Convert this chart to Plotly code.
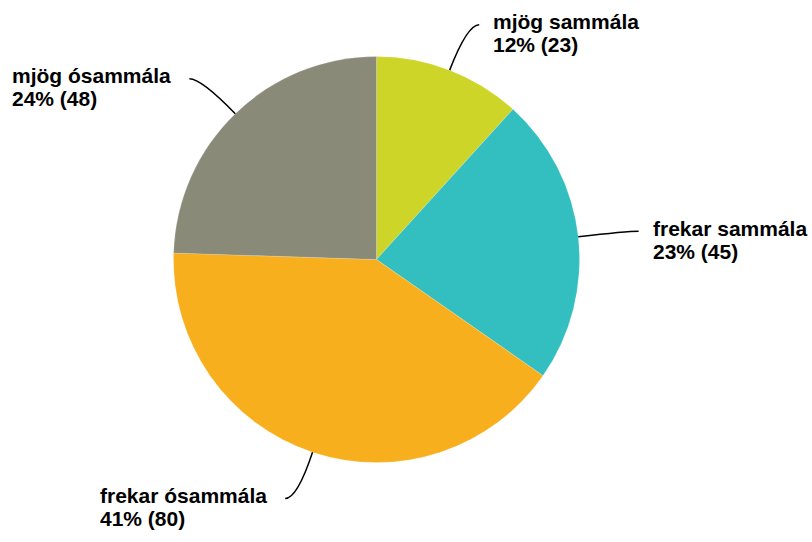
import math
import plotly.graph_objects as go

labels = ["mjög sammála", "frekar sammála", "frekar ósammála", "mjög ósammála"]
values = [23, 45, 80, 48]
colors = ["#CED529", "#33BEC0", "#F7AF1E", "#8A8A78"]

W, H = 812, 542
CX, CY, R = 376.5, 259.5, 203
TEXT_SIZE = 21
LINE_GAP = 22.5
BASE = dict(family="Liberation Sans, Arial, sans-serif", size=LINE_GAP / 1.3, color="#000000")

fig = go.Figure(go.Pie(
    labels=labels, values=values, sort=False, direction="clockwise", rotation=0,
    marker=dict(colors=colors, line=dict(color="rgba(255,255,255,0.35)", width=0.5)),
    textinfo="none", hoverinfo="label+value+percent", showlegend=False,
    domain=dict(x=[(CX - R) / W, (CX + R) / W], y=[(H - CY - R) / H, (H - CY + R) / H]),
))

def px(x, y):
    return x / W, 1 - y / H

total = sum(values)
cum = 0
shapes, annotations = [], []
for lab, v in zip(labels, values):
    mid = (cum + v / 2) / total * 2 * math.pi
    cum += v
    sx, sy = math.sin(mid), -math.cos(mid)
    p = (CX + R * sx, CY + R * sy)
    e = (CX + 1.24 * R * sx, CY + 1.24 * R * sy)
    side = 1 if sx >= 0 else -1
    h = (e[0] + side * 12, e[1])
    a, b, c = px(*p), px(*e), px(*h)
    shapes.append(dict(type="path", xref="paper", yref="paper",
                       path=f"M {a[0]},{a[1]} Q {b[0]},{b[1]} {c[0]},{c[1]}",
                       line=dict(color="#000000", width=1.5)))
    pct = round(v / total * 100)
    span = f"<span style='font-size:{TEXT_SIZE}px'><b>%s</b></span>"
    text = (span % lab) + "<br>" + (span % f"{pct}% ({v})")
    lx = h[0] + side * (12 if side > 0 else 16)
    tx, ty = px(lx, h[1] - 3 + LINE_GAP / 2)
    annotations.append(dict(
        x=tx, y=ty, xref="paper", yref="paper", showarrow=False,
        xanchor="left" if side > 0 else "right", yanchor="middle", align="left",
        text=text, font=BASE))

fig.update_layout(
    width=W, height=H, margin=dict(l=0, r=0, t=0, b=0),
    paper_bgcolor="#FFFFFF", plot_bgcolor="#FFFFFF",
    shapes=shapes, annotations=annotations,
)
fig.write_html("out.html", config={"displayModeBar": False},
               post_script="document.body.style.margin='0';")
